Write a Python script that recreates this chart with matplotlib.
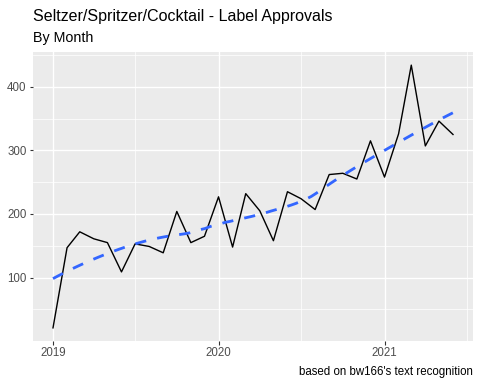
import numpy as np
import pandas as pd
import matplotlib
matplotlib.use("Agg")
import matplotlib.pyplot as plt
import matplotlib.dates as mdates

# monthly label approvals, Jan 2019 .. Jun 2021
months = pd.date_range("2019-01-01", "2021-06-01", freq="MS")
approvals = [21, 147, 172, 161, 155, 109, 153, 149, 139, 204, 155, 165,
             227, 148, 232, 205, 158, 235, 224, 207, 262, 264, 255, 315,
             258, 326, 434, 307, 346, 325]

year_ticks = pd.to_datetime(["2019-01-01", "2020-01-01", "2021-01-01"])
year_labels = ["2019", "2020", "2021"]
minor_x = pd.to_datetime(["2019-07-01", "2020-07-01", "2021-07-01"])
y_ticks = [100, 200, 300, 400]
y_minor = [50, 150, 250, 350, 450]

title = "Seltzer/Spritzer/Cocktail - Label Approvals"
subtitle = "By Month"
caption = "based on bw166's text recognition"


def loess(x, y, xs, span=0.75):
    """local quadratic fit with tricube weights (like geom_smooth default)"""
    n = len(x)
    q = int(np.floor(span * n))
    out = []
    for x0 in xs:
        d = np.abs(x - x0)
        dmax = np.sort(d)[q - 1]
        w = np.clip(1 - (d / dmax) ** 3, 0, None) ** 3
        coef = np.polyfit(x - x0, y, 2, w=np.sqrt(w))
        out.append(np.polyval(coef, 0.0))
    return np.array(out)


plt.rcParams["font.family"] = ["Liberation Sans", "DejaVu Sans"]

fig = plt.figure(figsize=(480 / 72, 384 / 72), dpi=72)
ax = fig.add_axes([33 / 480, 1 - 341 / 384, 440 / 480, 289 / 384])

xnum = mdates.date2num(months)
y = np.array(approvals, dtype=float)
xs = np.linspace(xnum[0], xnum[-1], 80)
ys = loess(xnum, y, xs)

ax.set_facecolor("#EBEBEB")
for v in y_minor:
    ax.axhline(v, color="white", lw=0.7, zorder=0)
for v in y_ticks:
    ax.axhline(v, color="white", lw=1.4, zorder=0)
for v in mdates.date2num(minor_x):
    ax.axvline(v, color="white", lw=0.7, zorder=0)
for v in mdates.date2num(year_ticks):
    ax.axvline(v, color="white", lw=1.4, zorder=0)

ax.plot(xnum, y, color="black", lw=1.4, zorder=2)
ax.plot(xs, ys, color="#3366FF", lw=2.8, dashes=(4, 4), zorder=3)

xr = xnum[-1] - xnum[0]
ax.set_xlim(xnum[0] - 0.05 * xr, xnum[-1] + 0.05 * xr)
yr = y.max() - y.min()
ax.set_ylim(y.min() - 0.05 * yr, y.max() + 0.05 * yr)

ax.set_xticks(mdates.date2num(year_ticks))
ax.set_xticklabels(year_labels)
ax.set_yticks(y_ticks)
ax.tick_params(axis="both", colors="#333333", length=3.5, width=1.1,
               labelsize=11.5, labelcolor="#4D4D4D", pad=3)
for s in ax.spines.values():
    s.set_visible(False)

fig.text(33 / 480, 1 - 16 / 384, title, fontsize=16, va="center", ha="left")
fig.text(33 / 480, 1 - 38 / 384, subtitle, fontsize=14.2, va="center", ha="left")
fig.text(473 / 480, 1 - 372 / 384, caption, fontsize=11.5, va="center", ha="right")

fig.savefig("out.png", dpi=72)
